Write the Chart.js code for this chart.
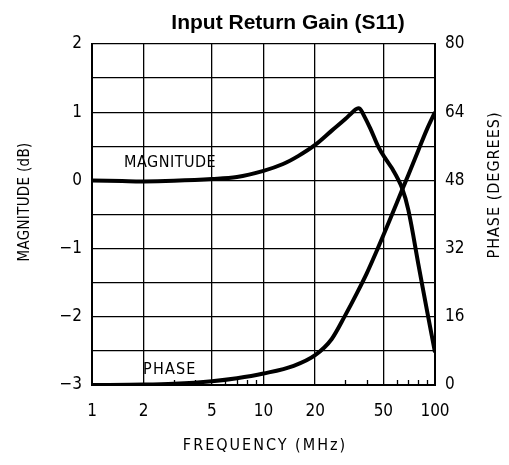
<!DOCTYPE html>
<html>
<head>
<meta charset="utf-8">
<title>Input Return Gain (S11)</title>
<script src="https://cdn.jsdelivr.net/npm/chart.js@4/dist/chart.umd.min.js"></script>
<style>
    html, body { margin: 0; padding: 0; background: #fff; }
    #wrap { width: 509px; height: 465px; }
</style>
</head>
<body>
<div id="wrap"><canvas id="s11Chart" width="509" height="465"></canvas></div>
<script>
// frequency points (MHz) and readings taken off the plot
var magFreq  = [1, 1.5, 2, 3, 5, 7, 10, 13, 16, 20, 25, 30, 33, 35, 36.5, 38, 42, 47, 52, 57, 64, 70, 80, 90, 100];
var magDb    = [0, -0.01, -0.015, -0.005, 0.02, 0.05, 0.14, 0.24, 0.36, 0.52, 0.73, 0.9, 1.0, 1.05, 1.05, 0.98, 0.76, 0.48, 0.3, 0.15, -0.1, -0.44, -1.23, -1.92, -2.52];
var phaseFreq = [1, 2, 3, 5, 7, 10, 15, 20, 25, 30, 35, 40, 46, 55, 64, 70, 80, 90, 100];
var phaseDeg  = [0, 0.1, 0.3, 0.9, 1.6, 2.7, 4.5, 7.0, 10.8, 16.4, 21.5, 26.2, 31.7, 39.1, 45.6, 49.3, 55.1, 60.1, 64];

var freqTicks  = [1, 2, 5, 10, 20, 50, 100];
var minorTicks = [3, 4, 6, 7, 8, 9, 30, 40, 60, 70, 80, 90];
var magTicks   = [-3, -2.5, -2, -1.5, -1, -0.5, 0, 0.5, 1, 1.5, 2];
var phaseTicks = [0, 16, 32, 48, 64, 80];

var plotFont = "'DejaVu Sans Condensed', 'Liberation Sans Narrow', 'DejaVu Sans', sans-serif";

var toPoints = function(xs, ys) {
    return xs.map(function(x, i) { return { x: x, y: ys[i] }; });
};

var drawText = function(ctx, text, x, y, size, spacing, angle) {
    ctx.save();
    ctx.font = size + 'px ' + plotFont;
    ctx.letterSpacing = spacing + 'px';
    ctx.translate(x, y);
    if (angle) ctx.rotate(angle);
    ctx.fillText(text, 0, 0);
    ctx.restore();
};

// title, axis names, curve labels and the small bottom ticks
var decorPlugin = {
    id: 'decor',
    beforeDatasetsDraw: function(chart) {
        var ctx = chart.ctx, area = chart.chartArea, xs = chart.scales.x;
        ctx.save();
        ctx.strokeStyle = '#000';
        ctx.lineWidth = 1.3;
        minorTicks.forEach(function(v) {
            var px = Math.round(xs.getPixelForValue(v)) + 0.5;
            ctx.beginPath();
            ctx.moveTo(px, area.bottom);
            ctx.lineTo(px, area.bottom - 5);
            ctx.stroke();
        });
        ctx.restore();
    },
    afterDraw: function(chart) {
        var ctx = chart.ctx;
        ctx.save();
        ctx.fillStyle = '#000';
        ctx.textAlign = 'center';
        ctx.textBaseline = 'middle';

        ctx.font = "bold 21px 'Liberation Sans', Arial, sans-serif";
        ctx.fillText('Input Return Gain (S11)', 288, 23);

        drawText(ctx, 'FREQUENCY (MHz)', 265, 446, 16, 2);
        drawText(ctx, 'MAGNITUDE (dB)', 25, 202, 15, 0.3, -Math.PI / 2);
        drawText(ctx, 'PHASE (DEGREES)', 495, 185, 16, 1, -Math.PI / 2);

        ctx.textAlign = 'left';
        drawText(ctx, 'MAGNITUDE', 124, 163, 16, 0.5);
        drawText(ctx, 'PHASE', 143, 370, 16, 1.2);
        ctx.restore();
    }
};

var gridLine = { color: '#000', lineWidth: 1.3, drawTicks: false };
var tickFont = { family: plotFont, size: 17 };

new Chart(document.getElementById('s11Chart'), {
    type: 'line',
    data: {
        datasets: [{
            label: 'MAGNITUDE',
            data: toPoints(magFreq, magDb),
            yAxisID: 'yMag',
            borderColor: '#000',
            borderWidth: 4,
            pointRadius: 0,
            tension: 0.35
        }, {
            label: 'PHASE',
            data: toPoints(phaseFreq, phaseDeg),
            yAxisID: 'yPh',
            borderColor: '#000',
            borderWidth: 4,
            pointRadius: 0,
            cubicInterpolationMode: 'monotone'
        }]
    },
    options: {
        responsive: false,
        animation: false,
        layout: { padding: { top: 44, left: 0, right: 0, bottom: 0 } },
        plugins: { legend: { display: false }, tooltip: { enabled: false } },
        scales: {
            x: {
                type: 'logarithmic',
                min: 1, max: 100,
                afterBuildTicks: function(s) { s.ticks = freqTicks.map(function(v) { return { value: v }; }); },
                afterFit: function(s) { s.height = 80; },
                grid: gridLine,
                border: { color: '#000', width: 2 },
                ticks: { color: '#000', font: tickFont, padding: 16, maxRotation: 0, autoSkip: false,
                    callback: function(v) { return String(v); } }
            },
            yMag: {
                position: 'left',
                min: -3, max: 2,
                afterBuildTicks: function(s) { s.ticks = magTicks.map(function(v) { return { value: v }; }); },
                afterFit: function(s) { s.width = 92; },
                grid: gridLine,
                border: { color: '#000', width: 2 },
                ticks: { color: '#000', font: tickFont, padding: 10, autoSkip: false,
                    callback: function(v) {
                        return Number.isInteger(v) ? String(v).replace('-', '\u2212') : '';
                    } }
            },
            yPh: {
                position: 'right',
                min: 0, max: 80,
                afterBuildTicks: function(s) { s.ticks = phaseTicks.map(function(v) { return { value: v }; }); },
                afterFit: function(s) { s.width = 74; },
                grid: { display: false, drawTicks: false },
                border: { color: '#000', width: 2 },
                ticks: { color: '#000', font: tickFont, padding: 10 }
            }
        }
    },
    plugins: [decorPlugin]
});
</script>
</body>
</html>
